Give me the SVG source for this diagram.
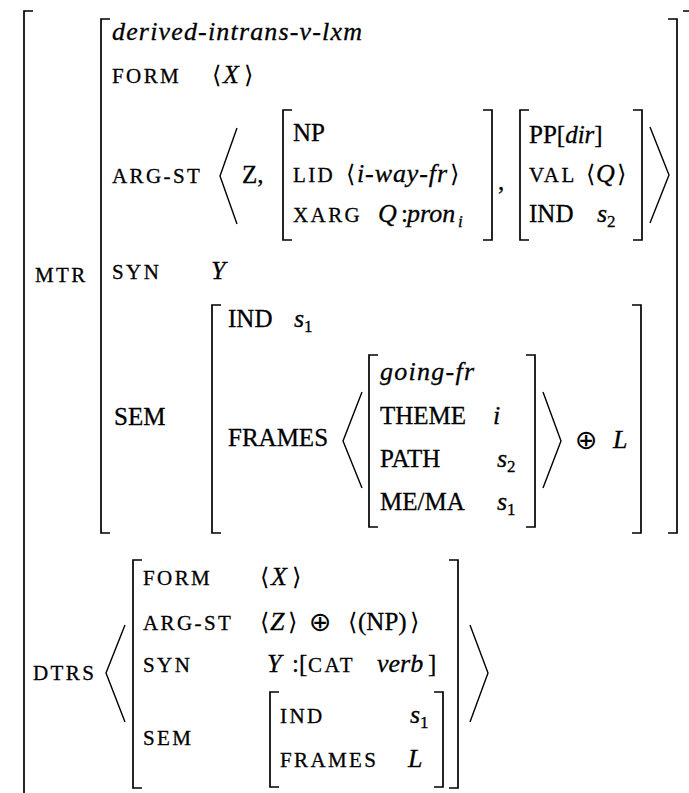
<svg xmlns="http://www.w3.org/2000/svg" width="689" height="793" viewBox="0 0 689 793">
<style>
text{stroke:#000;stroke-width:0.3;fill:#000}
.sc{font-family:"Liberation Serif","DejaVu Serif",serif;font-size:21px;letter-spacing:2.4px}
.rm{font-family:"Liberation Serif","DejaVu Serif",serif;font-size:25px}
.it{font-family:"Liberation Serif","DejaVu Serif",serif;font-style:italic;font-size:26px}
.sub{font-family:"Liberation Serif","DejaVu Serif",serif;font-size:17px}
.ab{font-family:"DejaVu Sans","DejaVu Serif",sans-serif;font-size:24px;stroke-width:0}
.sym{font-family:"DejaVu Sans",sans-serif;font-size:27px;stroke-width:0}
.br{fill:none;stroke:#000;stroke-width:1.7}
.ang{fill:none;stroke:#000;stroke-width:1.4}
</style>
<rect width="689" height="793" fill="#fff"/>
<g id="outer">
<path class="br" d="M33,11 H24 V795"/>
<path class="br" d="M683,11 H690 V795"/>
</g>
<g id="mtr">
<text class="sc" x="35" y="282">MTR</text>
<path class="br" d="M110,19 H101 V533 H110"/>
<path class="br" d="M668,19 H677 V533 H668"/>
<text class="it" x="112" y="40" textLength="250" lengthAdjust="spacing">derived-intrans-v-lxm</text>
<text class="sc" x="112" y="83">FORM</text>
<text class="ab" x="212" y="83">⟨</text><text class="it" x="223" y="83">X</text><text class="ab" x="244" y="83">⟩</text>
<text class="sc" x="112" y="183">ARG-ST</text>
<path class="ang" d="M237,128 L220,176 L237,224"/>
<text class="rm" x="242" y="183" font-size="26">Z,</text>
<g id="np">
<path class="br" d="M292,110 H283 V240 H292"/>
<path class="br" d="M483,110 H492 V240 H483"/>
<text class="rm" x="293" y="141">NP</text>
<text class="sc" x="293" y="182">LID</text>
<text class="ab" x="346" y="182">⟨</text><text class="it" x="357" y="182" textLength="90" lengthAdjust="spacing">i-way-fr</text><text class="ab" x="450" y="182">⟩</text>
<text class="sc" x="293" y="222">XARG</text>
<text class="it" x="378" y="222">Q</text><text class="rm" x="401" y="222">:</text><text class="it" x="407" y="222">pron</text><text class="sub" x="458" y="227" font-style="italic">i</text>
</g>
<text class="rm" x="498" y="190">,</text>
<g id="pp">
<path class="br" d="M529,110 H520 V240 H529"/>
<path class="br" d="M633,110 H642 V240 H633"/>
<text class="rm" x="529" y="143">PP[<tspan font-style="italic">dir</tspan>]</text>
<text class="sc" x="529" y="182">VAL</text>
<text class="ab" x="586" y="182">⟨</text><text class="it" x="596" y="182">Q</text><text class="ab" x="617" y="182">⟩</text>
<text class="rm" x="529" y="222">IND</text>
<text class="it" x="597" y="222">s</text><text class="sub" x="607" y="227">2</text>
</g>
<path class="ang" d="M650,127 L669,175 L650,223"/>
<text class="sc" x="112" y="279">SYN</text>
<text class="it" x="211" y="279">Y</text>
<text class="rm" x="114" y="425">SEM</text>
<g id="mtr-sem">
<path class="br" d="M221,305 H212 V533 H221"/>
<path class="br" d="M632,305 H641 V533 H632"/>
<text class="rm" x="228" y="327">IND</text>
<text class="it" x="294" y="327">s</text><text class="sub" x="304" y="332">1</text>
<text class="rm" x="228" y="446">FRAMES</text>
<path class="ang" d="M362,392 L343,441 L362,488"/>
<g id="going">
<path class="br" d="M378,355 H369 V527 H378"/>
<path class="br" d="M526,355 H535 V527 H526"/>
<text class="it" x="380" y="380" textLength="94" lengthAdjust="spacing">going-fr</text>
<text class="rm" x="380" y="424">THEME</text>
<text class="it" x="493" y="424">i</text>
<text class="rm" x="380" y="467">PATH</text>
<text class="it" x="497" y="467">s</text><text class="sub" x="507" y="472">2</text>
<text class="rm" x="380" y="510">ME/MA</text>
<text class="it" x="497" y="510">s</text><text class="sub" x="507" y="515">1</text>
</g>
<path class="ang" d="M543,392 L561,441 L543,488"/>
<text class="sym" x="575" y="449">⊕</text>
<text class="it" x="613" y="448">L</text>
</g>
</g>
<g id="dtrs">
<text class="sc" x="33" y="680">DTRS</text>
<path class="ang" d="M125,625 L106,673 L125,722"/>
<path class="br" d="M142,560 H133 V788 H142"/>
<path class="br" d="M449,560 H458 V788 H449"/>
<text class="sc" x="143" y="585">FORM</text>
<text class="ab" x="260" y="585">⟨</text><text class="it" x="271" y="585">X</text><text class="ab" x="292" y="585">⟩</text>
<text class="sc" x="143" y="630">ARG-ST</text>
<text class="ab" x="260" y="630">⟨</text><text class="it" x="270" y="630">Z</text><text class="ab" x="288" y="630">⟩</text>
<text class="sym" x="309" y="631">⊕</text>
<text class="ab" x="348" y="630">⟨</text><text class="rm" x="358" y="630">(NP)</text><text class="ab" x="410" y="630">⟩</text>
<text class="sc" x="143" y="672">SYN</text>
<text class="it" x="267" y="672">Y</text><text class="rm" x="292" y="672">:[</text>
<text class="sc" x="308" y="672">CAT</text>
<text class="it" x="377" y="672">verb</text><text class="rm" x="428" y="672">]</text>
<text class="sc" x="143" y="745">SEM</text>
<g id="dtrs-sem">
<path class="br" d="M279,692 H270 V787 H279"/>
<path class="br" d="M434,692 H443 V787 H434"/>
<text class="sc" x="280" y="723">IND</text>
<text class="it" x="410" y="723">s</text><text class="sub" x="420" y="728">1</text>
<text class="sc" x="280" y="767">FRAMES</text>
<text class="it" x="408" y="767">L</text>
</g>
<path class="ang" d="M470,625 L488,673 L470,722"/>
</g>
</svg>
